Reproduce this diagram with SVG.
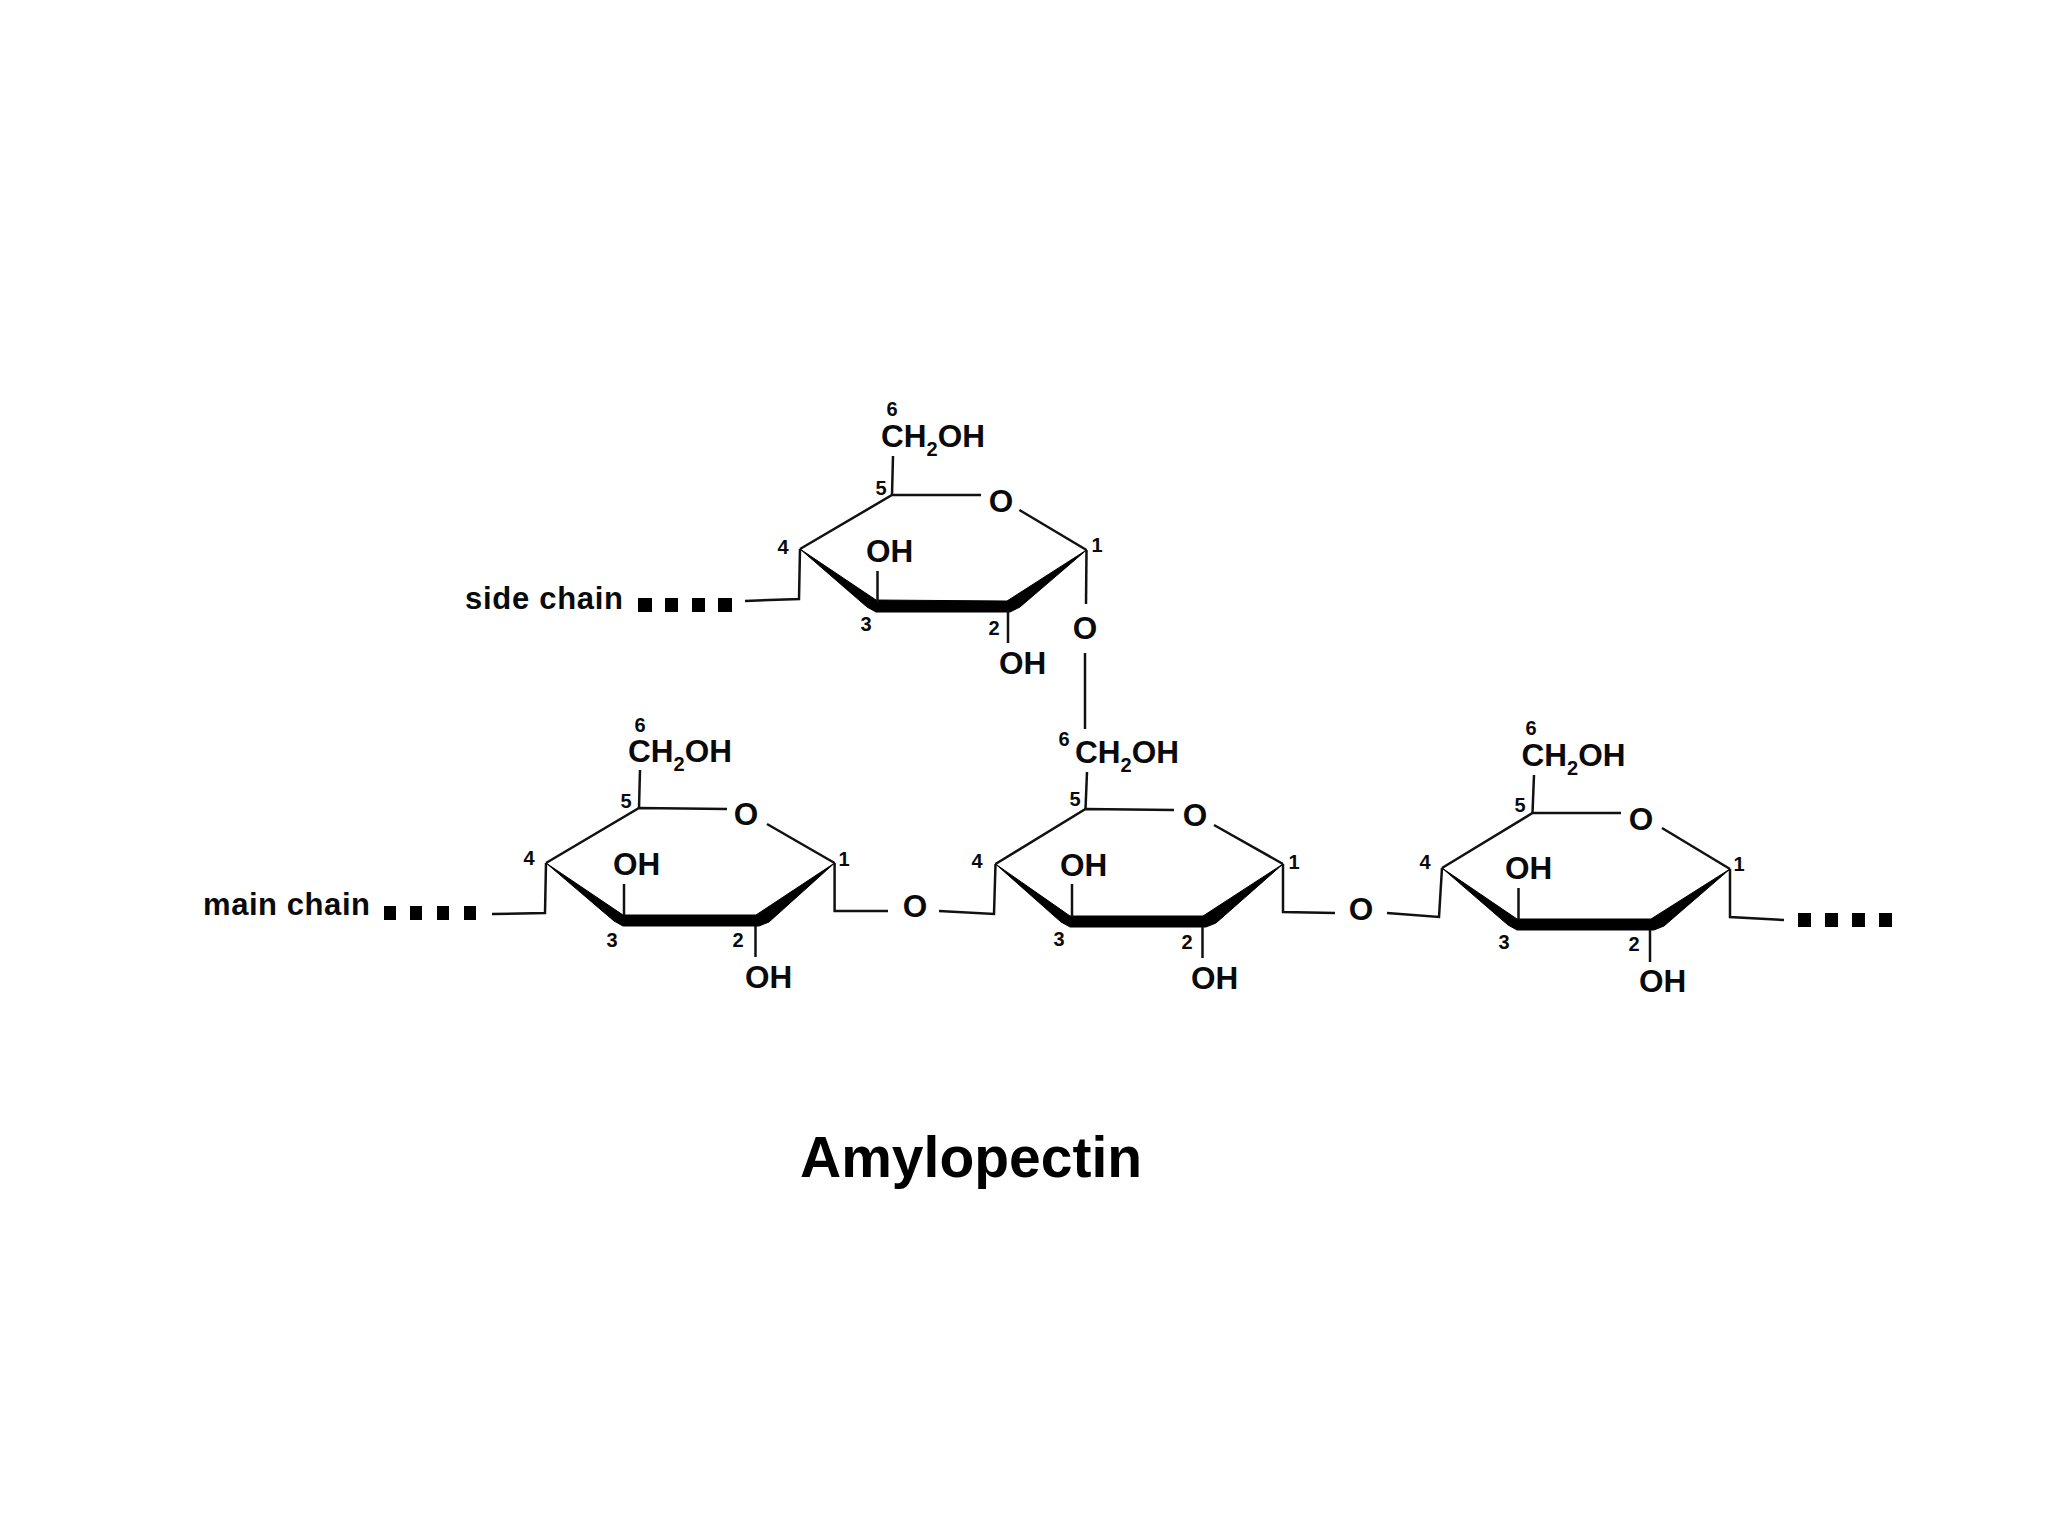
<svg xmlns="http://www.w3.org/2000/svg" width="2048" height="1536" viewBox="0 0 2048 1536">
<style>
text{font-family:"Liberation Sans",Arial,sans-serif;font-weight:700;fill:#0a0a0a}
.a{font-size:31.5px}
.n{font-size:20px;text-anchor:middle}
.m{text-anchor:middle}
.s{font-size:20px}
.lbl{font-size:31px}
.t{font-size:57px;fill:#000}
line,polyline{stroke:#111;stroke-width:2.5;fill:none}
.w{fill:#000;stroke:#000;stroke-width:1;stroke-linejoin:round}
.d{fill:#000}
</style>
<rect width="2048" height="1536" fill="#fff"/>
<g id="connectors">
<polyline points="800,549 799,599 745,601"/>
<line x1="1086.5" y1="550" x2="1086" y2="604"/>
<line x1="1085" y1="653" x2="1085" y2="729"/>
<polyline points="546,863 545,913 492,914"/>
<polyline points="834.6,863 834.6,911 888,911"/>
<polyline points="939,911 994,914 995.5,864"/>
<polyline points="1283,864 1283,912 1335,913"/>
<polyline points="1387,913 1439,917 1442,868"/>
<polyline points="1730,869 1730,917 1784,920"/>
</g>
<g id="ring-side">
<polygon class="w" points="800,549 876,600 1007,601 1086.5,550 1020,607 1010,612 876,612 867,607"/>
<polyline points="800,549 892,495 981,495"/>
<line x1="1019.4" y1="510" x2="1086.5" y2="550"/>
<line x1="892" y1="495" x2="893" y2="456"/>
<line x1="877.5" y1="571" x2="877.5" y2="602"/>
<line x1="1008" y1="610" x2="1008" y2="643"/>
<text class="a" x="881" y="447">CH<tspan class="s" dy="9">2</tspan><tspan dy="-9">OH</tspan></text>
<text class="a m" x="1001" y="512">O</text>
<text class="a" x="866" y="562">OH</text>
<text class="a" x="999" y="674">OH</text>
<text class="n" x="892" y="416">6</text>
<text class="n" x="881" y="495">5</text>
<text class="n" x="783" y="554">4</text>
<text class="n" x="866" y="631">3</text>
<text class="n" x="994" y="635">2</text>
<text class="n" x="1097" y="552">1</text>
</g>
<g id="link-oxygen-side"><text class="a m" x="1085" y="639">O</text></g>
<g id="ring-main-1">
<polygon class="w" points="546,863 623,915 756,915 834.6,863 769,922 759,926 623,926 614,921"/>
<polyline points="546,863 639,808 727,809"/>
<line x1="767" y1="824" x2="834.6" y2="863"/>
<line x1="640" y1="770" x2="639" y2="808"/>
<line x1="624" y1="884" x2="624" y2="915"/>
<line x1="755.5" y1="926" x2="755.5" y2="957"/>
<text class="a" x="628" y="762">CH<tspan class="s" dy="9">2</tspan><tspan dy="-9">OH</tspan></text>
<text class="a m" x="746" y="825">O</text>
<text class="a" x="613" y="875">OH</text>
<text class="a" x="745" y="988">OH</text>
<text class="n" x="640" y="732">6</text>
<text class="n" x="626" y="808">5</text>
<text class="n" x="529" y="865">4</text>
<text class="n" x="612" y="947">3</text>
<text class="n" x="738" y="947">2</text>
<text class="n" x="844" y="866">1</text>
</g>
<g id="link-oxygen-1"><text class="a m" x="915" y="917">O</text></g>
<g id="ring-main-2">
<polygon class="w" points="995.5,864 1070,916 1203,916 1283,864 1216,923 1206,927 1070,927 1061,922"/>
<polyline points="995.5,864 1085.5,809 1174,810"/>
<line x1="1214" y1="825" x2="1283" y2="864"/>
<line x1="1087" y1="772" x2="1085.5" y2="809"/>
<line x1="1072" y1="884" x2="1072" y2="917"/>
<line x1="1202.5" y1="927" x2="1202.5" y2="958"/>
<text class="a" x="1075" y="763">CH<tspan class="s" dy="9">2</tspan><tspan dy="-9">OH</tspan></text>
<text class="a m" x="1195" y="826">O</text>
<text class="a" x="1060" y="876">OH</text>
<text class="a" x="1191" y="989">OH</text>
<text class="n" x="1064" y="746">6</text>
<text class="n" x="1075" y="806">5</text>
<text class="n" x="977" y="868">4</text>
<text class="n" x="1059" y="946">3</text>
<text class="n" x="1187" y="949">2</text>
<text class="n" x="1294" y="869">1</text>
</g>
<g id="link-oxygen-2"><text class="a m" x="1361" y="920">O</text></g>
<g id="ring-main-3">
<polygon class="w" points="1442,868 1517,919 1651,919 1730,869 1664,926 1654,930 1517,930 1508,925"/>
<polyline points="1442,868 1532.5,813 1621,813"/>
<line x1="1662" y1="828" x2="1730" y2="869"/>
<line x1="1534" y1="775" x2="1532.5" y2="813"/>
<line x1="1518.5" y1="888" x2="1518.5" y2="920"/>
<line x1="1650" y1="930" x2="1650" y2="962"/>
<text class="a" x="1521.5" y="766">CH<tspan class="s" dy="9">2</tspan><tspan dy="-9">OH</tspan></text>
<text class="a m" x="1641" y="830">O</text>
<text class="a" x="1505" y="879">OH</text>
<text class="a" x="1639" y="992">OH</text>
<text class="n" x="1531" y="735">6</text>
<text class="n" x="1520" y="812">5</text>
<text class="n" x="1425" y="869">4</text>
<text class="n" x="1504" y="949">3</text>
<text class="n" x="1634" y="951">2</text>
<text class="n" x="1739" y="871">1</text>
</g>
<g id="label-side-chain">
<text class="lbl" x="465" y="609" textLength="158">side chain</text>
<rect class="d" x="638" y="598" width="14" height="14"/><rect class="d" x="665" y="598" width="13" height="14"/><rect class="d" x="692" y="598" width="13" height="14"/><rect class="d" x="718" y="598" width="14" height="14"/>
</g>
<g id="label-main-chain">
<text class="lbl" x="203" y="915" textLength="167">main chain</text>
<rect class="d" x="384" y="906" width="12" height="14"/><rect class="d" x="410" y="906" width="12" height="14"/><rect class="d" x="437" y="906" width="12" height="14"/><rect class="d" x="464" y="906" width="12" height="14"/>
</g>
<g id="chain-end">
<rect class="d" x="1798" y="913" width="13" height="14"/><rect class="d" x="1825" y="913" width="13" height="14"/><rect class="d" x="1852" y="913" width="13" height="14"/><rect class="d" x="1879" y="913" width="13" height="14"/>
</g>
<g id="title"><text class="t" x="800" y="1177">Amylopectin</text></g>
</svg>
